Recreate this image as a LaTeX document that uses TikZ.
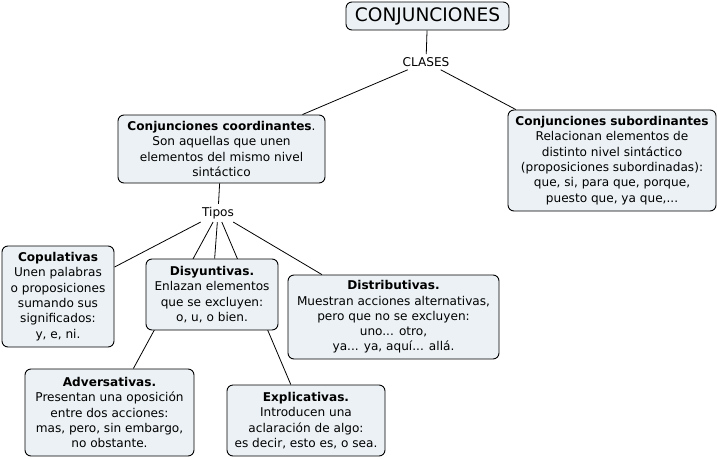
\documentclass[tikz,border=0pt]{standalone}
\usepackage{fontspec}
\setmainfont{DejaVu Sans}
\usetikzlibrary{backgrounds}
\definecolor{boxfill}{RGB}{235,241,244}
\tikzset{
  concept/.style={draw=black, line width=0.9pt, fill=boxfill, rounded corners=6pt,
    align=center, inner sep=0pt, font=\fontsize{12.1}{15.3}\selectfont},
  linklabel/.style={inner sep=3pt, font=\fontsize{12.1}{14}\selectfont},
  conn/.style={draw=black, line width=0.8pt}
}
\begin{document}
\begin{tikzpicture}[x=1pt,y=-1pt]
\useasboundingbox (0,0) rectangle (717,458);
\node[concept, minimum width=163pt, minimum height=28pt, font=\fontsize{18.6}{20}\selectfont] (top) at (427.5,16) {CONJUNCIONES};
\node[linklabel] (clases) at (426,62) {CLASES};
\node[concept, minimum width=207pt, minimum height=68pt] (coord) at (221.5,149)
  {\textbf{Conjunciones coordinantes}.\\Son aquellas que unen\\elementos del mismo nivel\\sintáctico};
\node[concept, minimum width=208pt, minimum height=101pt] (sub) at (612,160.5)
  {\textbf{Conjunciones subordinantes}\\Relacionan elementos de\\distinto nivel sintáctico\\(proposiciones subordinadas):\\que, si, para que, porque,\\puesto que, ya que,...};
\node[linklabel] (tipos) at (218,213) {Tipos};
\node[concept, minimum width=112pt, minimum height=101pt] (copul) at (58,296.5)
  {\textbf{Copulativas}\\Unen palabras\\o proposiciones\\sumando sus\\significados:\\y, e, ni.};
\node[concept, minimum width=132pt, minimum height=71pt] (disy) at (212,294.5)
  {\textbf{Disyuntivas.}\\Enlazan elementos\\que se excluyen:\\o, u, o bien.};
\node[concept, minimum width=211pt, minimum height=84pt] (distr) at (393.5,317)
  {\textbf{Distributivas.}\\Muestran acciones alternativas,\\pero que no se excluyen:\\uno... otro,\\ya... ya, aquí... allá.};
\node[concept, minimum width=169pt, minimum height=87pt] (adv) at (109.5,412.5)
  {\textbf{Adversativas.}\\Presentan una oposición\\entre dos acciones:\\mas, pero, sin embargo,\\no obstante.};
\node[concept, minimum width=158pt, minimum height=71pt] (expl) at (306,420.5)
  {\textbf{Explicativas.}\\Introducen una\\aclaración de algo:\\es decir, esto es, o sea.};
\begin{pgfonlayer}{background}
\fill[white] (0,0) rectangle (717,458);
\draw[conn] (top) -- (clases);
\draw[conn] (clases) -- (coord);
\draw[conn] (clases) -- (sub);
\draw[conn] (coord) -- (tipos);
\draw[conn] (tipos) -- (copul);
\draw[conn] (tipos) -- (disy);
\draw[conn] (tipos) -- (adv);
\draw[conn] (tipos) -- (expl);
\draw[conn] (tipos) -- (distr);
\end{pgfonlayer}
\end{tikzpicture}
\end{document}
